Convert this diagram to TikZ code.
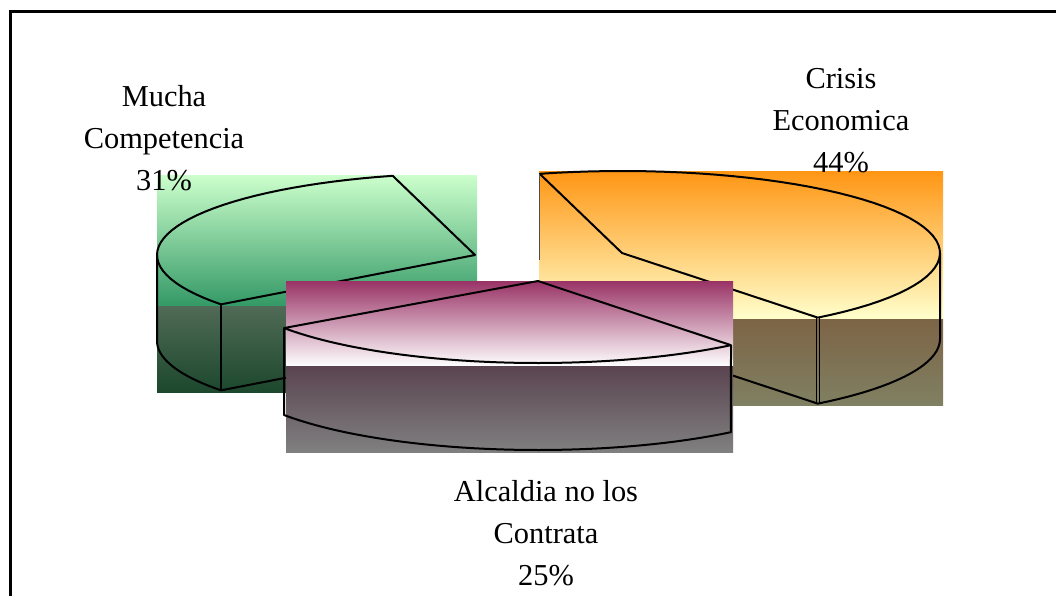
\documentclass[tikz,border=0pt]{standalone}
\usepackage{fontspec}
\setmainfont{Liberation Serif}
\definecolor{greentop}{RGB}{204,255,204}
\definecolor{greenbot}{RGB}{51,153,102}
\definecolor{greensidetop}{RGB}{80,106,86}
\definecolor{greensidebot}{RGB}{28,72,45}
\definecolor{orangetop}{RGB}{255,150,20}
\definecolor{orangebot}{RGB}{255,255,204}
\definecolor{orangesidetop}{RGB}{125,100,70}
\definecolor{orangesidebot}{RGB}{128,128,98}
\definecolor{purpletop}{RGB}{153,51,102}
\definecolor{purplebot}{RGB}{255,255,255}
\definecolor{purplesidetop}{RGB}{90,68,80}
\definecolor{purplesidebot}{RGB}{128,128,128}
\tikzset{
    edge/.style={line width=1pt, line join=round},
    lbl/.style={align=center, inner sep=0pt, font=\fontsize{15.2pt}{21pt}\selectfont}
}
\begin{document}
\begin{tikzpicture}[x=0.5pt,y=-0.5pt]
                \useasboundingbox (0,0) rectangle (1056,596);
                \draw[line width=1.5pt] (10,596) -- (10,11) -- (1056,11);
                \shade[top color=greentop, bottom color=greenbot] (157,175) rectangle (477,306);
                \shade[top color=greensidetop, bottom color=greensidebot] (157,306) rectangle (477,392);
                \draw[edge] (475,255) -- plot[domain=255:143,samples=40] ({475+318*cos(\x)},{255+82*sin(\x)}) -- cycle;
                \draw[edge] (157,255) -- plot[domain=180:143,samples=20] ({475+318*cos(\x)},{341+82*sin(\x)}) -- (475,341);
                \draw[edge] (221,304) -- (221,390);
                \shade[top color=orangetop, bottom color=orangebot] (539,171) rectangle (943,319);
                \shade[top color=orangesidetop, bottom color=orangesidebot] (539,319) rectangle (943,405);
                \draw[edge] (622,253) -- plot[domain=-105:52,samples=50] ({622+318*cos(\x)},{253+82*sin(\x)}) -- cycle;
                \draw[edge] (940,253) -- plot[domain=0:52,samples=20] ({622+318*cos(\x)},{339+82*sin(\x)}) -- (622,339);
                \draw[line width=0.6pt] (816.5,318) -- (816.5,404);
                \draw[line width=0.6pt] (819.5,318) -- (819.5,404);
                \draw[line width=0.5pt, black!70] (539.7,174) -- (539.7,260);
                \shade[top color=purpletop, bottom color=purplebot] (286,281) rectangle (733,366);
                \shade[top color=purplesidetop, bottom color=purplesidebot] (286,366) rectangle (733,452);
                \draw[edge] (538,281) -- plot[domain=145:51.5,samples=40] ({538+310*cos(\x)},{281+82*sin(\x)}) -- cycle;
                \draw[edge] (284,328) -- plot[domain=145:51.5,samples=40] ({538+310*cos(\x)},{368+82*sin(\x)}) -- (731,345);
                \node[lbl] (mucha) at (164,138) {Mucha\\Competencia\\31\%};
                \node[lbl] (crisis) at (841,121) {Crisis\\Economica\\44\%};
                \node[lbl] (alcaldia) at (546,533) {Alcaldia no los\\Contrata\\25\%};
            \end{tikzpicture}
\end{document}
